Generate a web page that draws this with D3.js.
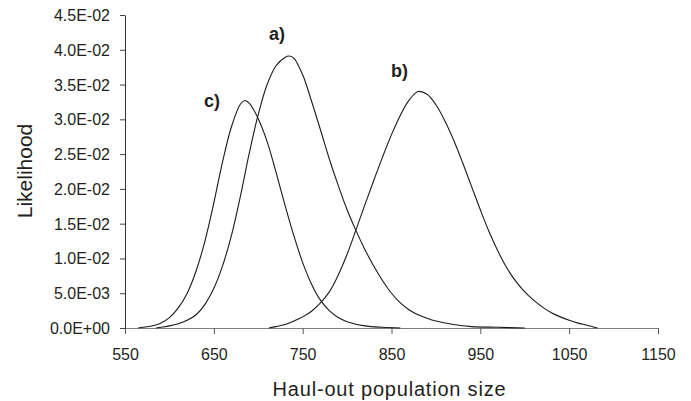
<!DOCTYPE html>
<html>
<head>
<meta charset="utf-8">
<script src="https://cdn.jsdelivr.net/npm/d3@7/dist/d3.min.js"></script>
<style>
  body { margin: 0; background: #fff; }
  text { font-family: "Liberation Sans", Arial, sans-serif; fill: #231f20; }
  .tick text { font-size: 16px; }
</style>
</head>
<body>
<script>
// curve a)
var aX = [585, 590, 600, 610, 620, 630, 640, 650, 660, 670, 680, 690, 700, 710, 720, 730, 735, 740, 750, 760, 770, 780, 790, 800, 810, 820, 830, 840, 850, 860, 870, 880, 890, 900, 920, 940, 970, 1000];
var aY = [0, 0.0001, 0.0003, 0.0006, 0.0011, 0.0019, 0.0034, 0.0057, 0.0090, 0.0134, 0.0190, 0.0252, 0.0307, 0.0350, 0.0377, 0.0389, 0.0391, 0.0388, 0.0364, 0.0326, 0.0285, 0.0243, 0.0205, 0.0170, 0.0140, 0.0113, 0.0089, 0.0068, 0.0050, 0.0036, 0.0026, 0.0019, 0.0014, 0.0010, 0.0005, 0.0002, 0.0001, 0];
// curve b)
var bX = [712, 720, 730, 740, 750, 760, 770, 780, 790, 800, 810, 820, 830, 840, 850, 860, 870, 880, 890, 900, 910, 920, 930, 940, 950, 960, 970, 980, 990, 1000, 1010, 1020, 1030, 1040, 1050, 1060, 1070, 1082];
var bY = [0, 0.0002, 0.0005, 0.0010, 0.0016, 0.0024, 0.0036, 0.0052, 0.0076, 0.0106, 0.0141, 0.0177, 0.0212, 0.0246, 0.0278, 0.0306, 0.0328, 0.0340, 0.0336, 0.0321, 0.0298, 0.0270, 0.0238, 0.0204, 0.0170, 0.0138, 0.0110, 0.0086, 0.0067, 0.0052, 0.0040, 0.0030, 0.0022, 0.0016, 0.0011, 0.0007, 0.0004, 0];
// curve c)
var cX = [565, 570, 580, 590, 600, 610, 620, 630, 640, 650, 660, 670, 680, 685, 690, 700, 710, 720, 730, 740, 750, 760, 770, 780, 790, 800, 820, 840, 860];
var cY = [0, 0.0001, 0.0003, 0.0007, 0.0015, 0.0029, 0.0050, 0.0082, 0.0125, 0.0180, 0.0240, 0.0290, 0.0322, 0.0327, 0.0323, 0.0301, 0.0268, 0.0224, 0.0177, 0.0133, 0.0094, 0.0063, 0.0040, 0.0025, 0.0015, 0.0009, 0.0003, 0.0001, 0];

var seriesNames = ["a)", "b)", "c)"];
var xTicks = [550, 650, 750, 850, 950, 1050, 1150];
var yTicks = [0, 0.005, 0.01, 0.015, 0.02, 0.025, 0.03, 0.035, 0.04, 0.045];

var svgWidth = 691;
var svgHeight = 401;
var margin = { top: 15, right: 33, bottom: 73, left: 125 };
var width = svgWidth - margin.left - margin.right;
var height = svgHeight - margin.top - margin.bottom;

var svg = d3.select("body")
  .append("svg")
  .attr("width", svgWidth)
  .attr("height", svgHeight);

var chartGroup = svg.append("g")
  .attr("transform", `translate(${margin.left}, ${margin.top})`);

var xScale = d3.scaleLinear().domain([550, 1150]).range([0, width]);
var yScale = d3.scaleLinear().domain([0, 0.045]).range([height, 0]);

// 4.5E-02 style labels
function fmtE(v) {
  var parts = v.toExponential(1).split("e");
  var e = parts[1];
  return parts[0] + "E" + e[0] + e.slice(1).padStart(2, "0");
}

// axes
var xAxis = d3.axisBottom(xScale).tickValues(xTicks).tickFormat(d3.format("d"))
  .tickSizeInner(6).tickSizeOuter(0).tickPadding(15);
var yAxis = d3.axisLeft(yScale).tickValues(yTicks).tickFormat(fmtE)
  .tickSizeInner(5).tickSizeOuter(0).tickPadding(10);

var gx = chartGroup.append("g")
  .attr("class", "x-axis")
  .attr("transform", `translate(0, ${height})`)
  .call(xAxis);
gx.select(".domain").attr("stroke", "#808080").attr("stroke-width", 1.2);
gx.selectAll(".tick line").attr("stroke", "#555");

var gy = chartGroup.append("g")
  .attr("class", "y-axis")
  .call(yAxis);
gy.select(".domain").attr("stroke", "#333");
gy.selectAll(".tick line").attr("stroke", "#444");
gy.selectAll(".tick text").attr("dy", "0.34em");

// curves
var line = d3.line()
  .x(d => xScale(d[0]))
  .y(d => yScale(d[1]))
  .curve(d3.curveCatmullRom.alpha(0.5));

var curves = [d3.zip(aX, aY), d3.zip(bX, bY), d3.zip(cX, cY)];

chartGroup.selectAll(".curve")
  .data(curves)
  .enter()
  .append("path")
  .attr("class", "curve")
  .attr("d", line)
  .attr("fill", "none")
  .attr("stroke", "#1a1a1a")
  .attr("stroke-width", 1.1);

// curve labels
var labelPos = [[269, 40], [391, 77], [204, 107]];
svg.selectAll(".lbl")
  .data(seriesNames)
  .enter()
  .append("text")
  .attr("class", "lbl")
  .attr("x", (d, i) => labelPos[i][0])
  .attr("y", (d, i) => labelPos[i][1])
  .attr("font-size", "18px")
  .attr("font-weight", "bold")
  .text(d => d);

// axis titles
svg.append("text")
  .attr("x", margin.left + width / 2 - 2)
  .attr("y", 396)
  .attr("text-anchor", "middle")
  .attr("font-size", "20px")
  .attr("letter-spacing", "0.8px")
  .text("Haul-out population size");

svg.append("text")
  .attr("transform", "translate(32, 171) rotate(-90)")
  .attr("text-anchor", "middle")
  .attr("font-size", "21px")
  .text("Likelihood");
</script>
</body>
</html>
